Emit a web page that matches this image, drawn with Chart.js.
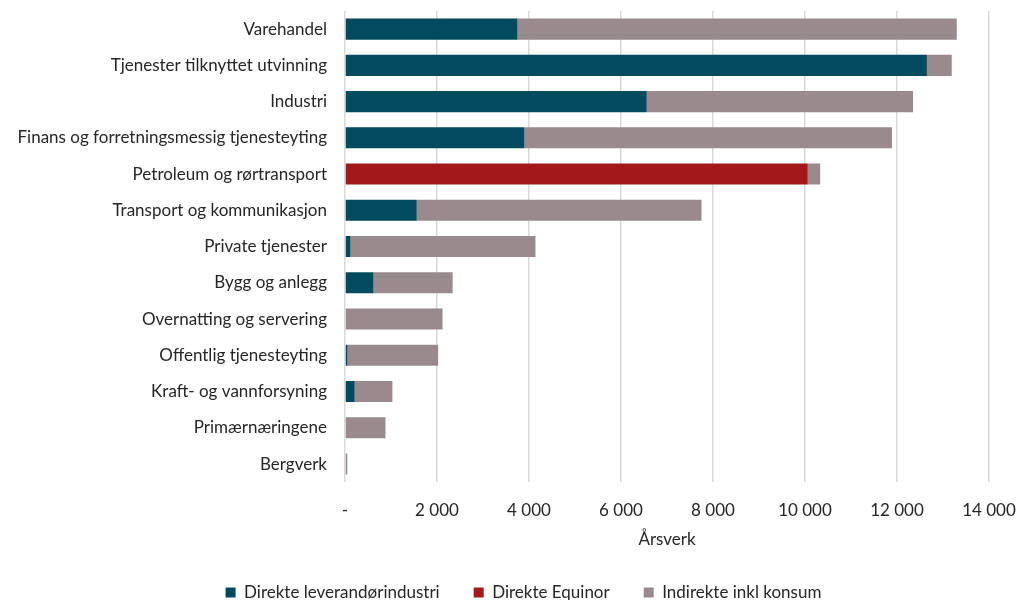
<!DOCTYPE html>
<html>
<head>
<meta charset="utf-8">
<script src="https://cdn.jsdelivr.net/npm/chart.js@4/dist/chart.umd.min.js"></script>
<style>
  html, body { margin: 0; padding: 0; background: #ffffff; }
  #wrap { width: 1017px; height: 600px; }
</style>
</head>
<body>
<div id="wrap"><canvas id="c" width="1017" height="600"></canvas></div>
<script>
const categories = [
  "Varehandel",
  "Tjenester tilknyttet utvinning",
  "Industri",
  "Finans og forretningsmessig tjenesteyting",
  "Petroleum og rørtransport",
  "Transport og kommunikasjon",
  "Private tjenester",
  "Bygg og anlegg",
  "Overnatting og servering",
  "Offentlig tjenesteyting",
  "Kraft- og vannforsyning",
  "Primærnæringene",
  "Bergverk"
];
const direkteLeverandor = [3750, 12650, 6560, 3900, 20, 1560, 120, 620, 0, 55, 210, 0, 0];
const direkteEquinor    = [0, 0, 0, 0, 10040, 0, 0, 0, 0, 0, 0, 0, 0];
const indirekte         = [9550, 540, 5790, 7990, 270, 6190, 4020, 1720, 2120, 1970, 820, 880, 50];
const xTickLabels = ["-", "2 000", "4 000", "6 000", "8 000", "10 000", "12 000", "14 000"];

const FONT = "Lato, 'Open Sans', sans-serif";
const TEXT = "#262626";

// shift the legend so it is centred under the plot area, as in the original
const legendShift = {
  id: "legendShift",
  afterLayout(chart) {
    const lg = chart.legend;
    if (!lg) return;
    const dx = 24;
    lg.left += dx; lg.right += dx;
    if (lg.legendHitBoxes) lg.legendHitBoxes.forEach(b => { b.left += dx; });
  }
};

new Chart(document.getElementById("c"), {
  type: "bar",
  data: {
    labels: categories,
    datasets: [
      { label: "Direkte leverandørindustri", data: direkteLeverandor, backgroundColor: "#024B5E" },
      { label: "Direkte Equinor", data: direkteEquinor, backgroundColor: "#A31919" },
      { label: "Indirekte inkl konsum", data: indirekte, backgroundColor: "#988A8D" }
    ]
  },
  plugins: [legendShift],
  options: {
    indexAxis: "y",
    responsive: false,
    animation: false,
    layout: { padding: { left: 10, right: 28, top: 11, bottom: -11 } },
    datasets: { bar: { categoryPercentage: 1.0, barPercentage: 0.58, borderWidth: 0 } },
    scales: {
      x: {
        stacked: true,
        min: 0,
        max: 14000,
        ticks: {
          stepSize: 2000,
          padding: 18,
          color: TEXT,
          font: { family: FONT, size: 17 },
          callback: (v, i) => xTickLabels[i]
        },
        grid: { color: "#D9D9D9", lineWidth: 1.5, drawTicks: false },
        border: { display: false },
        title: {
          display: true,
          text: "Årsverk",
          color: TEXT,
          font: { family: FONT, size: 17 },
          padding: { top: -9, bottom: 0 }
        },
        afterFit: (s) => { s.paddingLeft = 0; s.paddingRight = 0; }
      },
      y: {
        stacked: true,
        ticks: { padding: 18, color: TEXT, font: { family: FONT, size: 17 } },
        grid: { display: false, drawTicks: false },
        border: { display: false },
        afterFit: (s) => { s.width = 335; s.paddingTop = 0; s.paddingBottom = 0; }
      }
    },
    plugins: {
      legend: {
        position: "bottom",
        labels: {
          color: TEXT,
          font: { family: FONT, size: 17 },
          boxWidth: 10,
          boxHeight: 10,
          padding: 34
        }
      },
      tooltip: { enabled: false }
    }
  }
});
</script>
</body>
</html>
